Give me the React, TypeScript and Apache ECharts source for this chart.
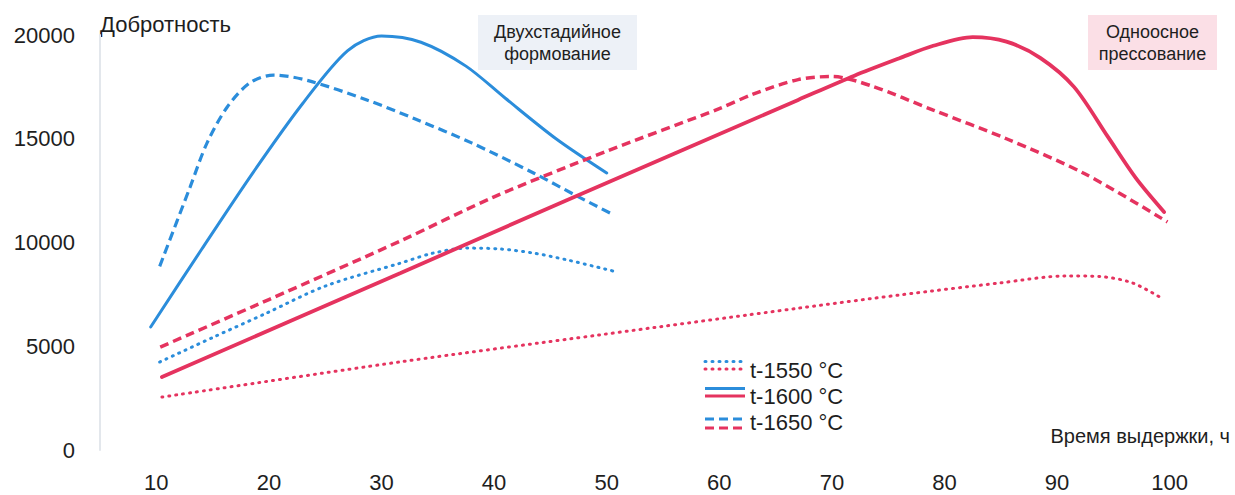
import React, { useEffect, useRef } from "react";
import * as echarts from "echarts";

// Holding time, h / Q-factor — two forming routes, three sintering temperatures
type Pt = [number, number];

// Two-stage forming (blue)
const twoStage1550: Pt[] = [
  [10.3, 4240], [15, 5420], [19.8, 6600], [25, 7900], [31.7, 9010], [34.6, 9490],
  [37.6, 9730], [40.5, 9690], [43.5, 9490], [46.5, 9160], [50.9, 8580],
];
const twoStage1600: Pt[] = [
  [9.5, 5930], [14, 9650], [18.5, 13300], [23, 16700], [27, 19250], [30, 19950],
  [33.5, 19650], [37.5, 18500], [41, 16950], [45.5, 15000], [50, 13350],
];
const twoStage1650: Pt[] = [
  [10.3, 8850], [13, 12670], [14.5, 14790], [16.3, 16530], [18.3, 17690], [20.4, 18070],
  [23.5, 17800], [28.7, 16870], [33, 15950], [38, 14800], [43.5, 13350],
  [47.5, 12200], [50.3, 11420],
];

// Uniaxial pressing (red)
const uniaxial1550: Pt[] = [
  [10.5, 2550], [31.7, 4250], [49.4, 5550], [67.1, 6840], [76, 7470], [84.9, 8050],
  [90.8, 8390], [93.8, 8360], [96.7, 8050], [99.4, 7280],
];
const uniaxial1600: Pt[] = [
  [10.5, 3520], [31.7, 8530], [46.5, 12050], [67, 16870], [72, 18040], [76, 18880],
  [79, 19480], [82.5, 19900], [85.5, 19680], [88.5, 18900], [91.5, 17500],
  [94.5, 15100], [97, 13100], [99.5, 11470],
];
const uniaxial1650: Pt[] = [
  [10.35, 4960], [20, 7250], [31.7, 10080], [40, 12200], [50, 14400], [60, 16450],
  [63, 17150], [67, 17850], [70, 18000], [73.5, 17550], [79, 16380], [85.5, 15000],
  [92.5, 13300], [99.8, 10990],
];

const legendLabels = ["t-1550 °C", "t-1600 °C", "t-1650 °C"];
const boxLabels = ["Двухстадийное\nформование", "Одноосное\nпрессование"];
const yTitle = "Добротность";
const xTitle = "Время выдержки, ч";

const BLUE = "#2b8ddb";
const RED = "#e5335f";
const FONT = "'Liberation Sans', Arial, sans-serif";
const TXT = "#1e1e1e";

const DOT = { type: [1, 6] as number[], cap: "round" as const };
const DASH = { type: [9, 5] as number[], cap: "butt" as const };

function line(name: string, data: Pt[], color: string, width: number, style: any, smooth = 0.3) {
  return {
    name,
    type: "line",
    data,
    smooth,
    showSymbol: false,
    symbol: "none",
    lineStyle: { color, width, type: style ? style.type : "solid", cap: style ? style.cap : "round" },
    z: 3,
  };
}

export default function App() {
  const ref = useRef<HTMLDivElement>(null);

  useEffect(() => {
    if (!ref.current) return;
    const chart = echarts.init(ref.current, undefined, { renderer: "svg" });

    const legendRows = [
      { y: 365, text: 370, style: DOT },
      { y: 392, text: 396, style: null },
      { y: 423, text: 422, style: DASH },
    ];
    const legendGraphics: any[] = [];
    legendRows.forEach((r, i) => {
      const mk = (color: string, dy: number) => ({
        type: "line",
        shape: { x1: 705, y1: r.y + dy, x2: 745, y2: r.y + dy },
        style: {
          stroke: color,
          lineWidth: 3,
          lineDash: r.style ? r.style.type : null,
          lineCap: r.style ? r.style.cap : "butt",
        },
      });
      legendGraphics.push(mk(BLUE, i === 2 ? -4 : -3.5));
      legendGraphics.push(mk(RED, i === 2 ? 5 : 4));
      legendGraphics.push({
        type: "text",
        x: 750,
        y: r.text,
        style: {
          text: legendLabels[i],
          font: `22px ${FONT}`,
          fill: TXT,
          verticalAlign: "middle",
        },
      });
    });

    const box = (x: number, w: number, fill: string, label: string) => [
      { type: "rect", shape: { x, y: 15, width: w, height: 55 }, style: { fill }, z: 1 },
      {
        type: "text",
        x: x + w / 2,
        y: 43,
        z: 2,
        style: {
          text: label,
          font: `18px ${FONT}`,
          fill: TXT,
          align: "center",
          verticalAlign: "middle",
          lineHeight: 22,
        },
      },
    ];

    chart.setOption({
      animation: false,
      backgroundColor: "#ffffff",
      grid: { left: 100, right: 9, top: 35, bottom: 45, containLabel: false },
      xAxis: {
        type: "value",
        min: 5,
        max: 105,
        interval: 5,
        axisLine: { show: false },
        axisTick: { show: false },
        splitLine: { show: false },
        axisLabel: {
          margin: 21,
          fontSize: 22,
          color: TXT,
          fontFamily: FONT,
          formatter: (v: number) => (v % 10 === 0 && v >= 10 && v <= 100 ? String(v) : ""),
        },
        name: xTitle,
        nameLocation: "end",
        nameGap: 4,
        nameTextStyle: {
          fontSize: 20,
          color: TXT,
          fontFamily: FONT,
          align: "right",
          verticalAlign: "bottom",
          padding: [0, 0, 4, 0],
        },
      },
      yAxis: {
        type: "value",
        min: 0,
        max: 20000,
        interval: 5000,
        axisLine: { show: true, lineStyle: { color: "#e3e7ec", width: 2 } },
        axisTick: { show: false },
        splitLine: { show: false },
        axisLabel: {
          margin: 25,
          fontSize: 22,
          color: TXT,
          fontFamily: FONT,
          formatter: (v: number) => String(v),
        },
        name: yTitle,
        nameLocation: "end",
        nameGap: 11,
        nameTextStyle: {
          fontSize: 22,
          color: TXT,
          fontFamily: FONT,
          align: "left",
          verticalAlign: "middle",
        },
      },
      series: [
        line("t-1550 двухстадийное", twoStage1550, BLUE, 3, DOT),
        line("t-1600 двухстадийное", twoStage1600, BLUE, 3, null),
        line("t-1650 двухстадийное", twoStage1650, BLUE, 3.2, DASH),
        line("t-1550 одноосное", uniaxial1550, RED, 3, DOT),
        line("t-1600 одноосное", uniaxial1600, RED, 3.8, null),
        line("t-1650 одноосное", uniaxial1650, RED, 3.5, DASH),
      ],
      graphic: [
        ...box(478, 159, "#edf1f7", boxLabels[0]),
        ...box(1088, 129, "#fbdfe6", boxLabels[1]),
        ...legendGraphics,
      ],
    });

    return () => chart.dispose();
  }, []);

  return (
    <div
      ref={ref}
      style={{ position: "absolute", left: 0, top: 0, width: 1235, height: 495 }}
    />
  );
}
